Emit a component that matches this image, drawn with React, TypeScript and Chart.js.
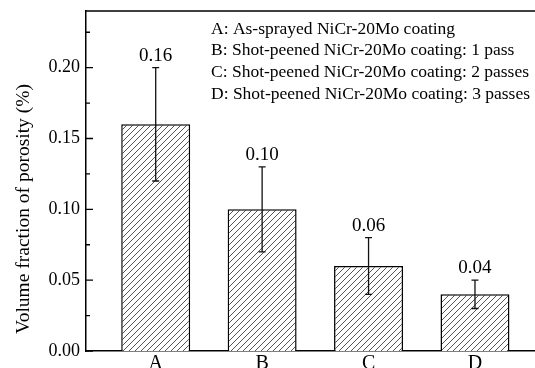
import React, { useEffect, useRef } from 'react';
import { Chart, registerables } from 'chart.js';

Chart.register(...registerables);

const categories = ['A', 'B', 'C', 'D'];
const positions = [1, 2, 3, 4];
const porosity = [0.16, 0.1, 0.06, 0.04];
const errLow = [0.12, 0.07, 0.04, 0.03];
const errHigh = [0.2, 0.13, 0.08, 0.05];
const valueLabels = ['0.16', '0.10', '0.06', '0.04'];
const majorTicks = [0, 0.05, 0.1, 0.15, 0.2];
const minorTicks = [0.025, 0.075, 0.125, 0.175, 0.225];
const legendLines = [
  'A: As-sprayed NiCr-20Mo coating',
  'B: Shot-peened NiCr-20Mo coating: 1 pass',
  'C: Shot-peened NiCr-20Mo coating: 2 passes',
  'D: Shot-peened NiCr-20Mo coating: 3 passes',
];
const yTitle = 'Volume fraction of porosity (%)';

const FONT = "'Liberation Serif', 'Times New Roman', serif";

function makeHatch(): CanvasPattern | string {
  const s = 6;
  const c = document.createElement('canvas');
  c.width = s;
  c.height = s;
  const g = c.getContext('2d');
  if (!g) return '#fff';
  g.fillStyle = '#ffffff';
  g.fillRect(0, 0, s, s);
  g.strokeStyle = '#555555';
  g.lineWidth = 1;
  g.beginPath();
  g.moveTo(0, s);
  g.lineTo(s, 0);
  g.moveTo(-1, 1);
  g.lineTo(1, -1);
  g.moveTo(s - 1, s + 1);
  g.lineTo(s + 1, s - 1);
  g.stroke();
  const p = g.createPattern(c, 'repeat');
  return p || '#fff';
}

const decorPlugin = {
  id: 'decor',
  afterDatasetsDraw(chart: any) {
    const { ctx, chartArea } = chart;
    const ys = chart.scales.y;
    const meta = chart.getDatasetMeta(0);
    ctx.save();
    // error bars
    ctx.strokeStyle = '#111';
    ctx.lineWidth = 1.3;
    meta.data.forEach((bar: any, i: number) => {
      const x = bar.x;
      const yl = ys.getPixelForValue(errLow[i]);
      const yh = ys.getPixelForValue(errHigh[i]);
      ctx.beginPath();
      ctx.moveTo(x, yl);
      ctx.lineTo(x, yh);
      ctx.moveTo(x - 3.5, yl);
      ctx.lineTo(x + 3.5, yl);
      ctx.moveTo(x - 3.5, yh);
      ctx.lineTo(x + 3.5, yh);
      ctx.stroke();
      // value labels
      ctx.fillStyle = '#000';
      ctx.font = `19px ${FONT}`;
      ctx.textAlign = 'center';
      ctx.textBaseline = 'alphabetic';
      ctx.fillText(valueLabels[i], x, yh - 7);
    });
    // inward y ticks
    ctx.strokeStyle = '#000';
    ctx.lineWidth = 1.3;
    ctx.beginPath();
    majorTicks.forEach((v) => {
      const y = ys.getPixelForValue(v);
      ctx.moveTo(chartArea.left, y);
      ctx.lineTo(chartArea.left + 7, y);
    });
    minorTicks.forEach((v) => {
      const y = ys.getPixelForValue(v);
      ctx.moveTo(chartArea.left, y);
      ctx.lineTo(chartArea.left + 4, y);
    });
    ctx.stroke();
    // top frame line
    ctx.lineWidth = 1.5;
    ctx.beginPath();
    ctx.moveTo(chartArea.left, chartArea.top);
    ctx.lineTo(chartArea.right, chartArea.top);
    ctx.stroke();
    // legend text
    ctx.fillStyle = '#000';
    ctx.font = `17.5px ${FONT}`;
    ctx.textAlign = 'left';
    ctx.textBaseline = 'middle';
    legendLines.forEach((t, i) => {
      ctx.fillText(t, chartArea.left + 125, chartArea.top + 18 + i * 21.7);
    });
    // y title
    ctx.font = `19.5px ${FONT}`;
    ctx.textAlign = 'center';
    ctx.textBaseline = 'middle';
    ctx.translate(24, 209);
    ctx.rotate(-Math.PI / 2);
    ctx.fillText(yTitle, 0, 0);
    ctx.restore();
  },
};

export default function App() {
  const ref = useRef<HTMLCanvasElement | null>(null);
  useEffect(() => {
    document.body.style.margin = '0';
    if (!ref.current) return;
    const chart = new Chart(ref.current, {
      type: 'bar',
      data: {
        datasets: [
          {
            data: positions.map((x, i) => ({ x, y: porosity[i] })),
            backgroundColor: makeHatch() as any,
            borderColor: '#000',
            borderWidth: 1.5,
            categoryPercentage: 1,
            barPercentage: 0.648,
          },
        ],
      },
      options: {
        animation: false,
        responsive: true,
        maintainAspectRatio: false,
        layout: { padding: { top: 11, left: 0, right: 0, bottom: 0 } },
        plugins: { legend: { display: false }, tooltip: { enabled: false } },
        scales: {
          x: {
            type: 'linear',
            offset: false,
            min: 0.345,
            max: 4.564,
            grid: { display: false, drawTicks: false, offset: false },
            border: { display: true, color: '#000', width: 1.5 },
            afterBuildTicks: (s: any) => {
              s.ticks = positions.map((v) => ({ value: v }));
            },
            afterFit: (s: any) => {
              s.height = 17;
              s.paddingLeft = 0;
              s.paddingRight = 0;
            },
            ticks: {
              padding: 1,
              color: '#000',
              font: { family: FONT, size: 20 },
              callback: (v: any) => {
                const i = positions.indexOf(Number(v));
                return i >= 0 ? categories[i] : '';
              },
            },
          },
          y: {
            type: 'linear',
            min: 0,
            max: 0.24,
            grid: { display: false, drawTicks: false },
            border: { display: true, color: '#000', width: 1.5 },
            afterBuildTicks: (s: any) => {
              s.ticks = majorTicks.map((v) => ({ value: v }));
            },
            afterFit: (s: any) => {
              s.width = 86;
              s.paddingTop = 0;
              s.paddingBottom = 0;
            },
            ticks: {
              padding: 6,
              color: '#000',
              font: { family: FONT, size: 18 },
              callback: (v: any) => Number(v).toFixed(2),
            },
          },
        },
      },
      plugins: [decorPlugin],
    });
    return () => chart.destroy();
  }, []);
  return (
    <div style={{ width: 535, height: 368, position: 'relative' }}>
      <canvas ref={ref} />
    </div>
  );
}
